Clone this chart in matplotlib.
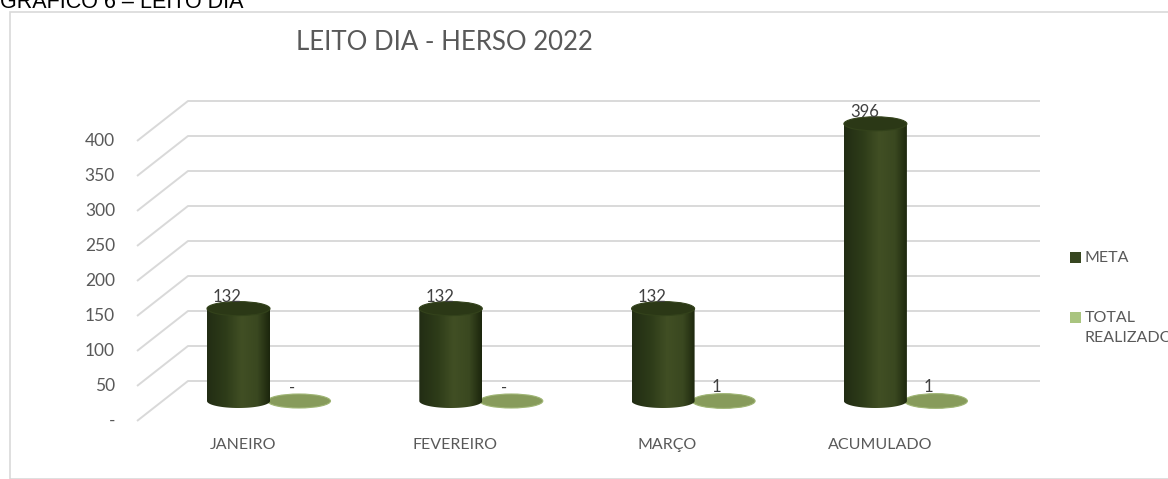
import numpy as np
import matplotlib
matplotlib.use("Agg")
import matplotlib.pyplot as plt
from matplotlib.patches import Ellipse, Rectangle, PathPatch
from matplotlib.path import Path
from matplotlib.colors import to_rgb

# dados do grafico
categorias = ["JANEIRO", "FEVEREIRO", "MARÇO", "ACUMULADO"]
meta = [132, 132, 132, 396]
realizado = [0, 0, 1, 1]
rotulos_realizado = ["-", "-", "1", "1"]
y_ticks = [0, 50, 100, 150, 200, 250, 300, 350, 400]
y_labels = ["-", "50", "100", "150", "200", "250", "300", "350", "400"]

plt.rcParams["font.family"] = ["Lato", "DejaVu Sans"]

W, H = 1168, 479
fig = plt.figure(figsize=(W / 100, H / 100), dpi=100)

# moldura e cabecalho
fig.patches.append(Rectangle((10 / W, 0), 1.2, 1 - 12 / H, transform=fig.transFigure,
                             fill=False, edgecolor="#d9d9d9", lw=1.2))
fig.text(0.0, 1 - 8 / H, "GRAFICO 6 – LEITO DIA", family="Liberation Sans",
         fontsize=15.5, color="black", va="baseline", ha="left")
fig.text(444 / W, 1 - 43 / H, "LEITO DIA - HERSO 2022", fontsize=18.5,
         color="#595959", ha="center", va="center")

# eixo: x = indice da categoria, y = valor
px_x = 212.3       # pixels por categoria
px_y = 0.7         # pixels por unidade
x0_px, y0_px = 238.5, 401
left_px, right_px, top_px, bot_px = 130, 1050, 90, 470
ax = fig.add_axes([left_px / W, (H - bot_px) / H, (right_px - left_px) / W, (bot_px - top_px) / H])
ax.set_xlim((left_px - x0_px) / px_x, (right_px - x0_px) / px_x)
ax.set_ylim((y0_px - bot_px) / px_y, (y0_px - top_px) / px_y)
ax.axis("off")

depth = 20 / px_y                   # meia profundidade do piso
x_front = (137 - x0_px) / px_x
x_back = (188 - x0_px) / px_x
x_end = (1040 - x0_px) / px_x
for t, lab in zip(y_ticks, y_labels):
    ax.plot([x_front, x_back, x_end], [t - depth, t + depth, t + depth],
            color="#d9d9d9", lw=1.4, solid_capstyle="butt", zorder=1)
    ax.text((115 - x0_px) / px_x, t - depth, lab, ha="right", va="center",
            fontsize=12.5, color="#595959")

# cilindros
half_w = 31.5 / px_x
eh = 14 / px_y
offset_real = 60.5 / px_x
stops = [to_rgb(c) for c in ["#222d14", "#2e3c19", "#414f24", "#3a4820", "#1c260d"]]
pos = [0, 0.3, 0.55, 0.8, 1]
n = 120
grad = np.zeros((1, n, 3))
for k in range(3):
    grad[0, :, k] = np.interp(np.linspace(0, 1, n), pos, [s[k] for s in stops])

for i, (m, r) in enumerate(zip(meta, realizado)):
    xc = i
    th = np.linspace(np.pi, 2 * np.pi, 60)
    verts = list(zip(xc + half_w * np.cos(th), 0 + eh / 2 * np.sin(th)))
    verts += [(xc + half_w, m), (xc - half_w, m), verts[0]]
    body = Path(verts, [Path.MOVETO] + [Path.LINETO] * (len(verts) - 2) + [Path.CLOSEPOLY])
    patch = PathPatch(body, facecolor="none", edgecolor="none")
    ax.add_patch(patch)
    im = ax.imshow(grad, extent=[xc - half_w, xc + half_w, -eh, m], aspect="auto",
                   interpolation="bilinear", zorder=3)
    im.set_clip_path(patch)
    ax.add_patch(Ellipse((xc, m), 2 * half_w, eh, facecolor="#2b3816",
                         edgecolor="#33421b", lw=0.8, zorder=4))
    ax.text(xc - 11 / px_x, m + 12 / px_y, str(m), ha="center", va="center",
            fontsize=12, color="#404040", zorder=5)

    xr = xc + offset_real
    ax.add_patch(Ellipse((xr, r * 0), 2 * half_w, eh + r, facecolor="#879b5b",
                         edgecolor="#9fb574", lw=0.8, zorder=2))
    ax.text(xr - 7 / px_x, r + 13 / px_y, rotulos_realizado[i], ha="center", va="center",
            fontsize=12, color="#404040", zorder=5)

    ax.text(xc + 4.5 / px_x, (y0_px - 445) / px_y, categorias[i], ha="center", va="center",
            fontsize=11.5, color="#595959")

# legenda
fig.patches.append(Rectangle((1070 / W, 1 - 263 / H), 11 / W, 11 / H, transform=fig.transFigure,
                             facecolor="#374620", edgecolor="none"))
fig.text(1085 / W, 1 - 258 / H, "META", fontsize=11.5, color="#595959", va="center")
fig.patches.append(Rectangle((1070 / W, 1 - 323 / H), 11 / W, 11 / H, transform=fig.transFigure,
                             facecolor="#a9c47f", edgecolor="none"))
fig.text(1085 / W, 1 - 318 / H, "TOTAL", fontsize=11.5, color="#595959", va="center")
fig.text(1085 / W, 1 - 338 / H, "REALIZADO", fontsize=11.5, color="#595959", va="center")

fig.savefig("out.png", dpi=100)
